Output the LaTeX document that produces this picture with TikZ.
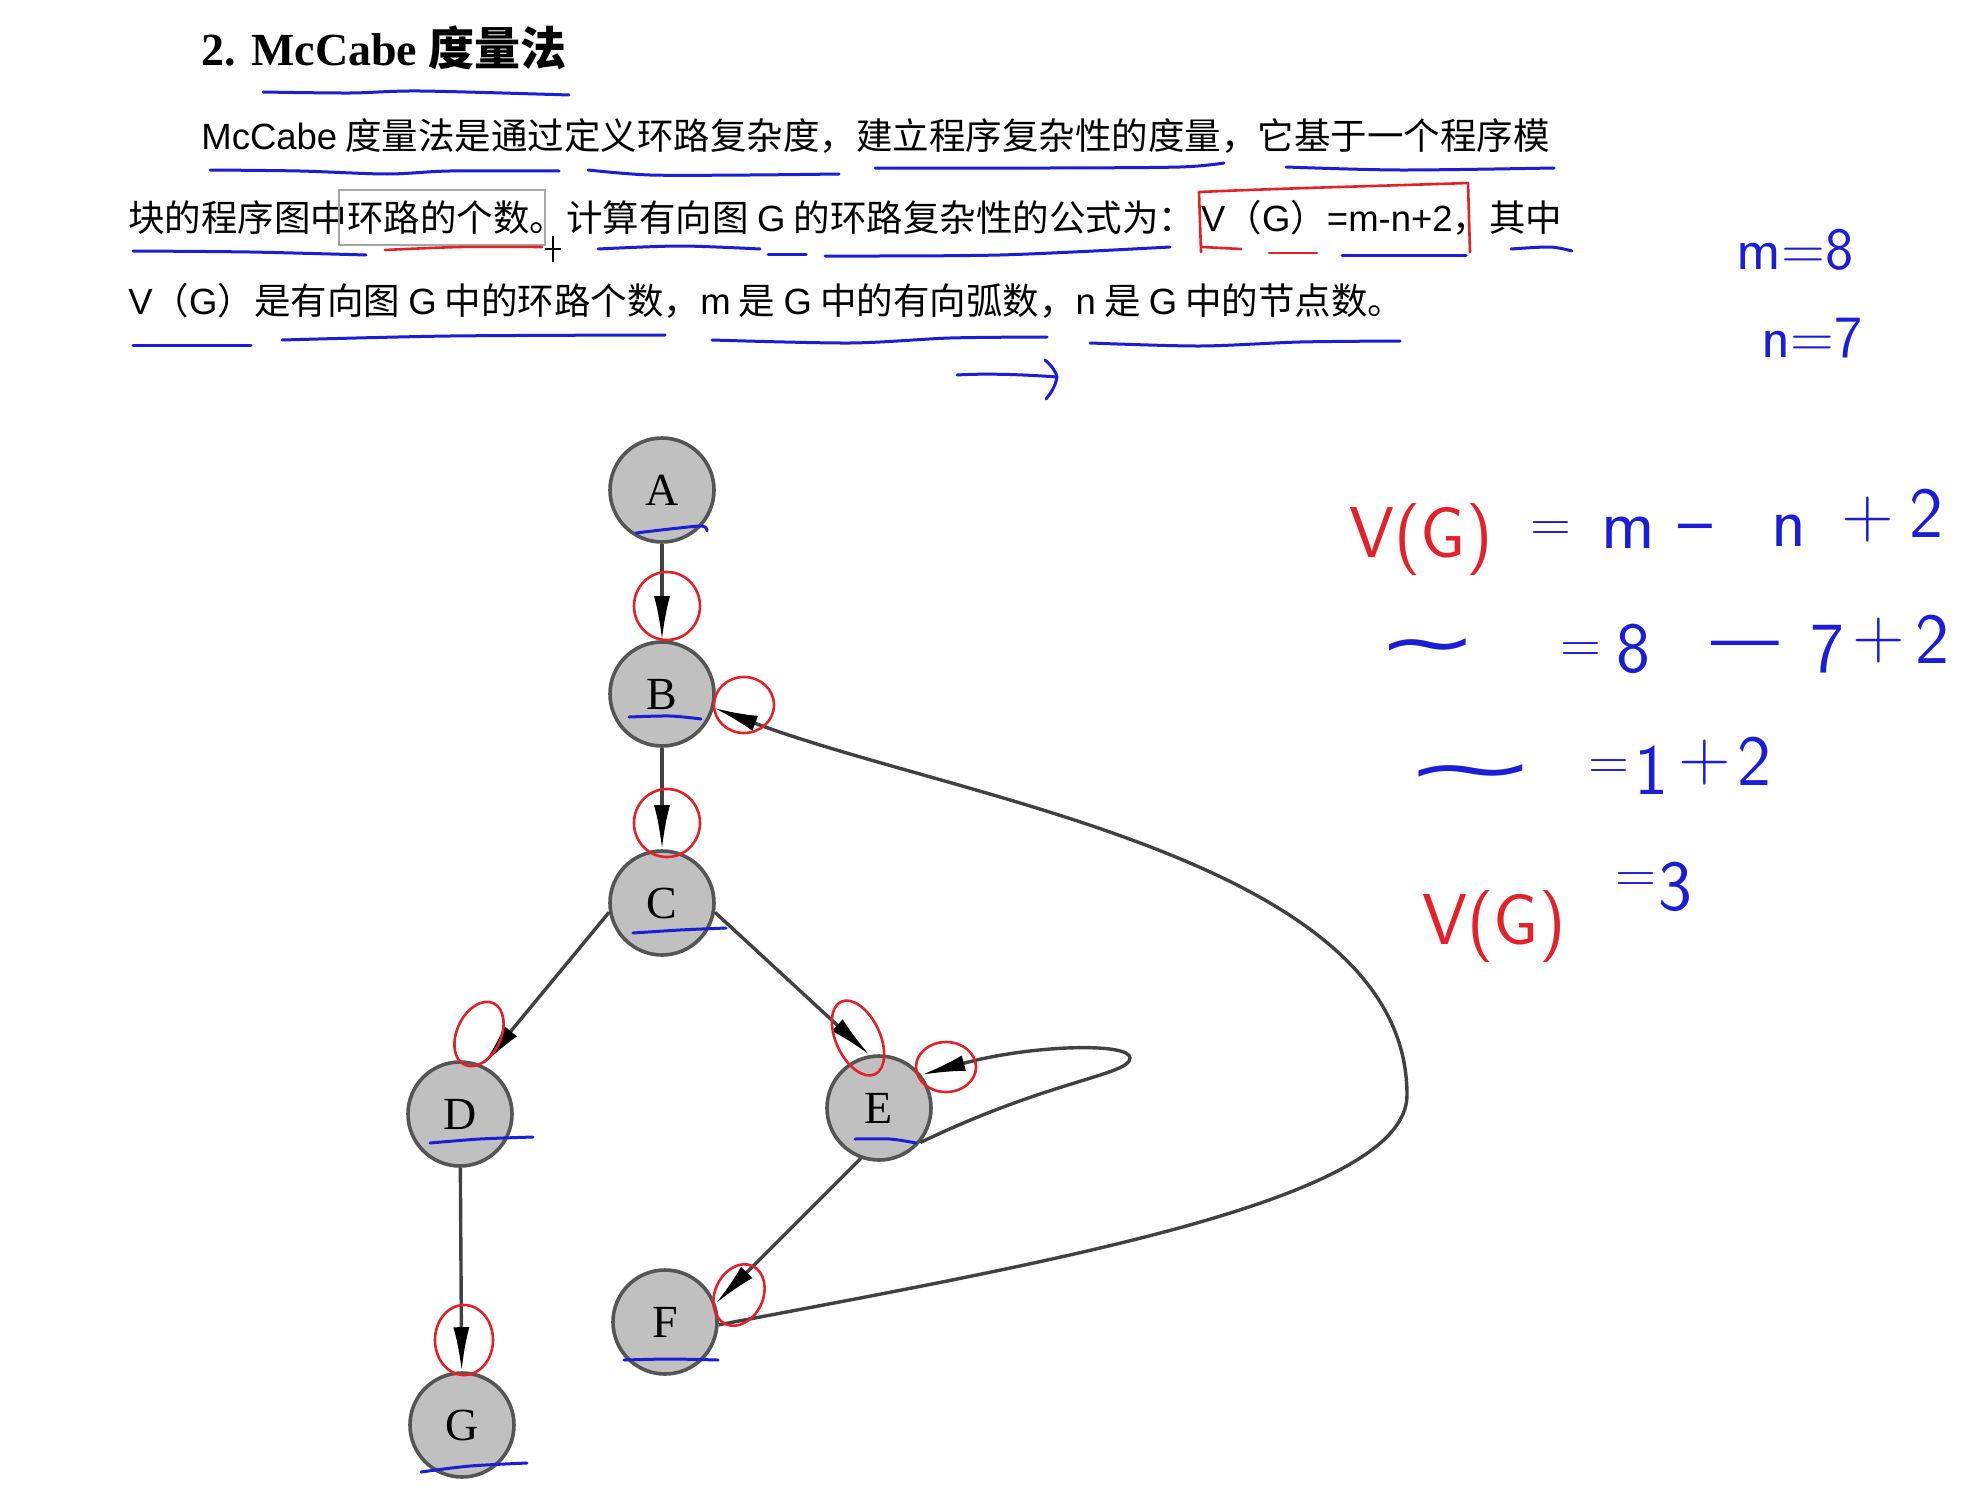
\documentclass[tikz,border=0pt]{standalone}
\usepackage{fontspec}
\usetikzlibrary{arrows.meta}
\newfontfamily\cjk{Noto Sans CJK SC}
\newfontfamily\ltnfont{Liberation Sans}
\newfontfamily\tnr{Liberation Serif}
\newfontfamily\dvs{DejaVu Sans}
\newcommand\ltn[1]{{\ltnfont #1}}
\definecolor{hblue}{RGB}{28,30,215}
\definecolor{hred}{RGB}{228,32,40}
\definecolor{nodefill}{RGB}{192,192,192}
\definecolor{nodeline}{RGB}{85,85,85}
\definecolor{edgecol}{RGB}{65,65,65}
\begin{document}
\begin{tikzpicture}[x=0.5pt,y=-0.5pt,
 vertex/.style={circle, draw=nodeline, fill=nodefill, line width=1.8pt, minimum size=52pt, inner sep=0pt, font=\tnr\fontsize{23}{23}\selectfont},
 edge/.style={draw=edgecol, line width=1.7pt, -{Latex[length=22pt,width=8pt,color=black]}},
 body/.style={anchor=base west, inner sep=0pt, font=\cjk\fontsize{18.25}{18.25}\selectfont},
 hw/.style={inner sep=0pt, anchor=base, font=\sffamily\fontsize{36}{36}\selectfont},
 hweq/.style={inner sep=0pt, anchor=base, font=\sffamily\fontsize{28}{28}\selectfont},
 hwt/.style={inner sep=0pt, text=hblue, font=\dvs\fontsize{36}{36}\selectfont},
 ublue/.style={draw=hblue, line width=1.5pt, line cap=round, line join=round},
 ured/.style={draw=hred, line width=1.3pt, line cap=round, line join=round},
]
\useasboundingbox[fill=white] (0,0) rectangle (1969,1493);

% ---- text ----
\node[anchor=base west, inner sep=0pt] (title) at (201,66) {\tnr\bfseries\fontsize{23}{23}\selectfont 2. McCabe {\cjk\bfseries 度量法}};
\node[body] (l1) at (201,149) {\ltn{McCabe} 度量法是通过定义环路复杂度，建立程序复杂性的度量，它基于一个程序模};
\node[body] (l2) at (128,231) {块的程序图中环路的个数。计算有向图 \ltn{G} 的环路复杂性的公式为：\,\ltn{V}（\ltn{G}）\ltn{=m-n+2}，其中};
\node[body] (l3) at (128,314) {\ltn{V}（\ltn{G}）是有向图 \ltn{G} 中的环路个数，\ltn{m} 是 \ltn{G} 中的有向弧数，\ltn{n} 是 \ltn{G} 中的节点数。};

% selection box and cursor
\draw[gray!70, line width=0.6pt] (339,190) rectangle (545,245);
\draw[black, line width=0.6pt] (553,236) -- (553,262) (545,249) -- (561,249);

% red box around formula
\draw[ured] (1201,252) -- (1199,192) .. controls (1290,188) and (1380,186) .. (1468,183) -- (1470,252);

% text underlines
\draw[ublue] plot[smooth] coordinates {(263,92) (350,93) (420,91) (569,95)};
\draw[ublue] plot[smooth] coordinates {(210,170) (300,171) (387,174) (450,171) (559,171)};
\draw[ublue] plot[smooth] coordinates {(588,170) (650,175) (750,175) (839,174)};
\draw[ublue] plot[smooth] coordinates {(875,168) (1050,168) (1180,167) (1224,163)};
\draw[ublue] plot[smooth] coordinates {(1286,167) (1400,170) (1554,168)};
\draw[ublue] plot[smooth] coordinates {(133,251) (250,252) (366,255)};
\draw[ured] plot[smooth] coordinates {(385,250) (460,247) (542,247)};
\draw[ublue] plot[smooth] coordinates {(598,249) (680,246) (760,249)};
\draw[ublue] (768,254) -- (806,254);
\draw[ublue] plot[smooth] coordinates {(825,256) (1000,255) (1170,247)};
\draw[ured] (1202,247) -- (1241,249);
\draw[ured] (1269,253) -- (1317,253);
\draw[ublue] plot[smooth] coordinates {(1342,255) (1466,255)};
\draw[ublue] plot[smooth] coordinates {(1511,249) (1550,247) (1572,251)};
\draw[ublue] (133,345) -- (251,345);
\draw[ublue] plot[smooth] coordinates {(282,340) (450,336) (665,335)};
\draw[ublue] plot[smooth] coordinates {(712,340) (850,343) (950,338) (1047,337)};
\draw[ublue] plot[smooth] coordinates {(1090,343) (1200,346) (1300,342) (1400,341)};
% hand arrow
\draw[ublue] (957,375) .. controls (990,373) and (1030,375) .. (1057,377);
\draw[ublue] (1045,360) .. controls (1052,366) and (1056,372) .. (1057,377) .. controls (1055,388) and (1050,394) .. (1046,399);

% ---- graph ----
\node[vertex] (A) at (662,490) {A};
\node[vertex] (B) at (662,694) {B};
\node[vertex] (C) at (662,903) {C};
\node[vertex] (D) at (460,1114) {D};
\node[vertex] (E) at (879,1108) {E};
\node[vertex] (F) at (665,1322) {F};
\node[vertex] (G) at (462,1425) {G};

\draw[edge] (A) -- (B);
\draw[edge] (B) -- (C);
\draw[edge] (C.190) -- (D.65);
\draw[edge] (C.-10) -- (E.100);
\draw[edge] (D) -- (G);
\draw[edge] (E.250) -- (F.20);
\draw[edge] (E.-40) .. controls (1050,1080) and (1130,1075) .. (1130,1058) .. controls (1130,1042) and (1030,1045) .. (E.38);
\draw[edge] (F.-3) .. controls (1050,1262) and (1407,1200) .. (1407,1095) .. controls (1407,860) and (960,800) .. (B.-15);

% node underlines
\draw[ublue] plot[smooth] coordinates {(636,533) (670,529) (702,526) (707,531)};
\draw[ublue] plot[smooth] coordinates {(629,717) (670,716) (701,719)};
\draw[ublue] plot[smooth] coordinates {(633,933) (680,930) (726,928)};
\draw[ublue] plot[smooth] coordinates {(430,1143) (480,1139) (533,1137)};
\draw[ublue] plot[smooth] coordinates {(855,1139) (890,1139) (916,1143)};
\draw[ublue] plot[smooth] coordinates {(624,1360) (670,1359) (718,1360)};
\draw[ublue] plot[smooth] coordinates {(421,1472) (470,1466) (527,1463)};

% red circles round arrow heads
\draw[ured] (667,606) ellipse [x radius=33, y radius=34];
\draw[ured] (667,823) ellipse [x radius=33, y radius=34];
\draw[ured] (744,705) ellipse [x radius=30, y radius=28];
\draw[ured, rotate around={-25:(479,1034)}] (479,1034) ellipse [x radius=22, y radius=34];
\draw[ured, rotate around={25:(858,1038)}] (858,1038) ellipse [x radius=22, y radius=40];
\draw[ured] (946,1067) ellipse [x radius=30, y radius=25];
\draw[ured, rotate around={-25:(739,1295)}] (739,1295) ellipse [x radius=24, y radius=32];
\draw[ured] (464,1340) ellipse [x radius=29, y radius=35];

% ---- handwriting ----
\node[inner sep=0pt, text=hblue, font=\sffamily\fontsize{30}{30}\selectfont] (m8) at (1795,250) {m=8};
\node[inner sep=0pt, text=hblue, font=\sffamily\fontsize{30}{30}\selectfont] (n7) at (1812,338) {n=7};

\node[hw, text=hred] (r1a) at (1421,557) {V(G)};
\node[hweq, text=hblue] (r1b) at (1551,541) {=};
\node[hw, text=hblue] (r1c) at (1628,548) {m};
\node[hw, text=hblue] (r1d) at (1695,545) {–};
\node[hw, text=hblue] (r1e) at (1789,546) {n};
\node[hw, text=hblue] (r1f) at (1868,537) {+};
\node[hw, text=hblue] (r1g) at (1926,537) {2};

\node[hwt] (r2a) at (1428,653) {\scalebox{1.7}[1]{∼}};
\node[hweq, text=hblue] (r2b) at (1581,662) {=};
\node[hw, text=hblue] (r2c) at (1633,672) {8};
\node[hw, text=hblue] (r2d) at (1745,662) {—};
\node[hw, text=hblue] (r2e) at (1827,672) {7};
\node[hw, text=hblue] (r2f) at (1879,658) {+};
\node[hw, text=hblue] (r2g) at (1932,663) {2};

\node[hwt] (r3a) at (1471,779) {\scalebox{2.3}[1]{∼}};
\node[hweq, text=hblue] (r3b) at (1609,779) {=};
\node[hw, text=hblue] (r3c) at (1651,794) {1};
\node[hw, text=hblue] (r3d) at (1705,780) {+};
\node[hw, text=hblue] (r3e) at (1754,785) {2};

\node[hw, text=hred] (r4a) at (1494,944) {V(G)};
\node[hweq, text=hblue] (r4b) at (1636,892) {=};
\node[hw, text=hblue] (r4c) at (1675,910) {3};
\end{tikzpicture}
\end{document}
